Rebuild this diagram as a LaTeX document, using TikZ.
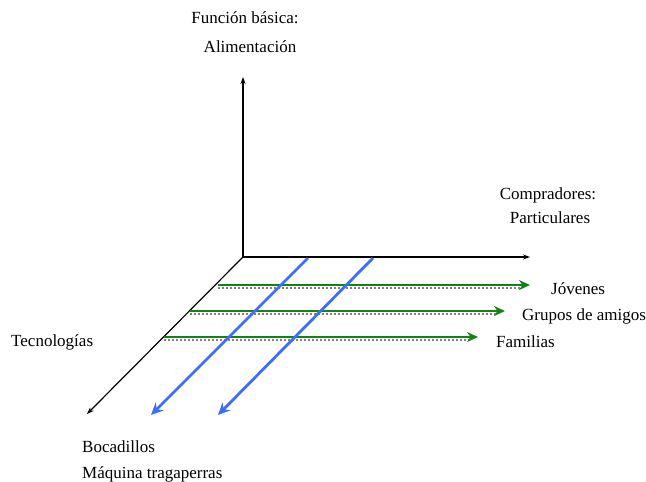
\documentclass[tikz,border=0pt]{standalone}
\usepackage{fontspec}
\setmainfont{Liberation Serif}
\usetikzlibrary{arrows.meta}
\definecolor{bluear}{RGB}{60,110,250}
\definecolor{greenar}{RGB}{20,130,20}
\tikzset{
  axis/.style={line width=1.2pt,-{Stealth[length=7pt,width=5pt]}},
  grn/.style={greenar,line width=2.5pt,-{Stealth[length=11pt,width=10pt]}},
  shad/.style={gray,line width=2pt,dotted},
  blu/.style={bluear,line width=2.8pt,-{Stealth[length=12pt,width=11pt]}},
  lbl/.style={font=\fontsize{17}{19}\selectfont,inner sep=0pt}
}
\begin{document}
\begin{tikzpicture}[x=1pt,y=-1pt]
\useasboundingbox (0,0) rectangle (646,482);
\coordinate (O) at (243,257);
\coordinate (Vt) at (243,77);
\coordinate (Hr) at (530,257);
\coordinate (Dg) at (87,414);
\draw[axis] (O) -- (Vt);
\draw[axis] (O) -- (Hr);
\draw[axis] (O) -- (Dg);
% green arrows with shadows
\coordinate (g1a) at (218,285); \coordinate (g1b) at (530,285);
\coordinate (g2a) at (190,311); \coordinate (g2b) at (505,311);
\coordinate (g3a) at (164,337); \coordinate (g3b) at (478,337);
\draw[shad] ([yshift=-2.5pt]g1a) -- ([yshift=-2.5pt,xshift=-8pt]g1b);
\draw[shad] ([yshift=-2.5pt]g2a) -- ([yshift=-2.5pt,xshift=-8pt]g2b);
\draw[shad] ([yshift=-2.5pt]g3a) -- ([yshift=-2.5pt,xshift=-8pt]g3b);
\draw[grn] (g1a) -- (g1b);
\draw[grn] (g2a) -- (g2b);
\draw[grn] (g3a) -- (g3b);
% blue arrows
\coordinate (b1a) at (308,258); \coordinate (b1b) at (151,415);
\coordinate (b2a) at (373,258); \coordinate (b2b) at (218,415);
\draw[blu] (b1a) -- (b1b);
\draw[blu] (b2a) -- (b2b);
% labels
\node[lbl] (f1) at (245,18) {Función básica:};
\node[lbl] (f2) at (250,47) {Alimentación};
\node[lbl] (c1) at (548,195) {Compradores:};
\node[lbl] (c2) at (550,218) {Particulares};
\node[lbl,anchor=west] (j) at (551,289) {Jóvenes};
\node[lbl,anchor=west] (g) at (522,316) {Grupos de amigos};
\node[lbl,anchor=west] (fa) at (496,342) {Familias};
\node[lbl,anchor=west] (t) at (11,342) {Tecnologías};
\node[lbl,anchor=west] (b) at (82,447) {Bocadillos};
\node[lbl,anchor=west] (m) at (82,474) {Máquina tragaperras};
\end{tikzpicture}
\end{document}
